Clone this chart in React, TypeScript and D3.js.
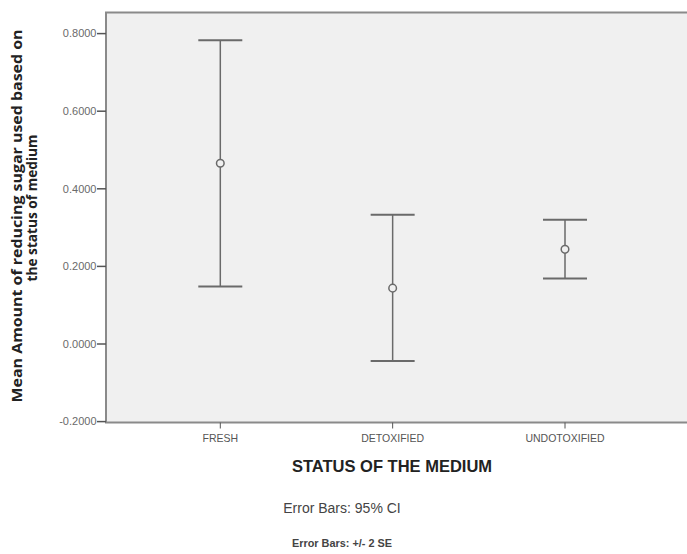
import React from "react";
import * as d3 from "d3";

const categories = ["FRESH", "DETOXIFIED", "UNDOTOXIFIED"];
const means = [0.466, 0.144, 0.244];
const lowerCI = [0.148, -0.044, 0.169];
const upperCI = [0.783, 0.333, 0.32];
const yTicks = [-0.2, 0, 0.2, 0.4, 0.6, 0.8];

const W = 687;
const H = 554;
const plot = { left: 106, top: 12.5, right: 690, bottom: 422.5 };

export default function App() {
  const y = d3.scaleLinear().domain([-0.2, 0.8]).range([421.6, 33.6]);
  const x = d3
    .scalePoint<string>()
    .domain(categories)
    .range([220.3, 565]);
  const fmt = (v: number) => d3.format(".4f")(v).replace("\u2212", "-");
  const cap = 22;
  const barColor = "#6a6a6a";

  return (
    <svg
      width={W}
      height={H}
      style={{ position: "absolute", left: 0, top: 0, background: "#fff" }}
      fontFamily="'Liberation Sans', Arial, sans-serif"
    >
      <rect
        x={plot.left}
        y={plot.top}
        width={plot.right - plot.left}
        height={plot.bottom - plot.top}
        fill="#f0f0f0"
        stroke="#8a8a8a"
        strokeWidth={2}
      />

      {yTicks.map((t) => (
        <g key={t}>
          <line
            x1={plot.left - 9}
            x2={plot.left}
            y1={y(t)}
            y2={y(t)}
            stroke="#555"
            strokeWidth={1.5}
          />
          <text
            x={plot.left - 9.5}
            y={y(t)}
            dy="0.35em"
            textAnchor="end"
            fontSize={11}
            fill="#6a6a6a"
          >
            {fmt(t)}
          </text>
        </g>
      ))}

      {categories.map((c) => (
        <g key={c}>
          <line
            x1={x(c)}
            x2={x(c)}
            y1={plot.bottom}
            y2={plot.bottom + 6}
            stroke="#555"
            strokeWidth={1}
          />
          <text
            x={x(c)}
            y={plot.bottom + 16}
            dy="0.35em"
            textAnchor="middle"
            fontSize={10.5}
            fill="#555"
          >
            {c}
          </text>
        </g>
      ))}

      {categories.map((c, i) => {
        const cx = x(c) as number;
        return (
          <g key={"bar" + c} stroke={barColor} fill="none">
            <line x1={cx} x2={cx} y1={y(upperCI[i])} y2={y(lowerCI[i])} strokeWidth={1.5} />
            <line x1={cx - cap} x2={cx + cap} y1={y(upperCI[i])} y2={y(upperCI[i])} strokeWidth={2} />
            <line x1={cx - cap} x2={cx + cap} y1={y(lowerCI[i])} y2={y(lowerCI[i])} strokeWidth={2} />
            <circle cx={cx} cy={y(means[i])} r={3.8} strokeWidth={1.5} fill="#f0f0f0" />
          </g>
        );
      })}

      <g transform="translate(0, 214) rotate(-90)" fontFamily="'Open Sans', sans-serif" fontWeight="bold" fontSize={14} fill="#222">
        <text x={-2} y={22} textAnchor="middle" textLength={373} lengthAdjust="spacingAndGlyphs">
          Mean Amount of reducing sugar used based on
        </text>
        <text x={6} y={37} textAnchor="middle" textLength={147} lengthAdjust="spacingAndGlyphs">
          the status of medium
        </text>
      </g>

      <text x={392} y={472} textAnchor="middle" fontWeight="bold" fontSize={16.5} fill="#222">
        STATUS OF THE MEDIUM
      </text>
      <text x={342} y={513} textAnchor="middle" fontSize={14} fill="#444">
        Error Bars: 95% CI
      </text>
      <text x={342} y={547} textAnchor="middle" fontSize={10} fontWeight="bold" fill="#444" textLength={100} lengthAdjust="spacingAndGlyphs">
        Error Bars: +/- 2 SE
      </text>
    </svg>
  );
}
